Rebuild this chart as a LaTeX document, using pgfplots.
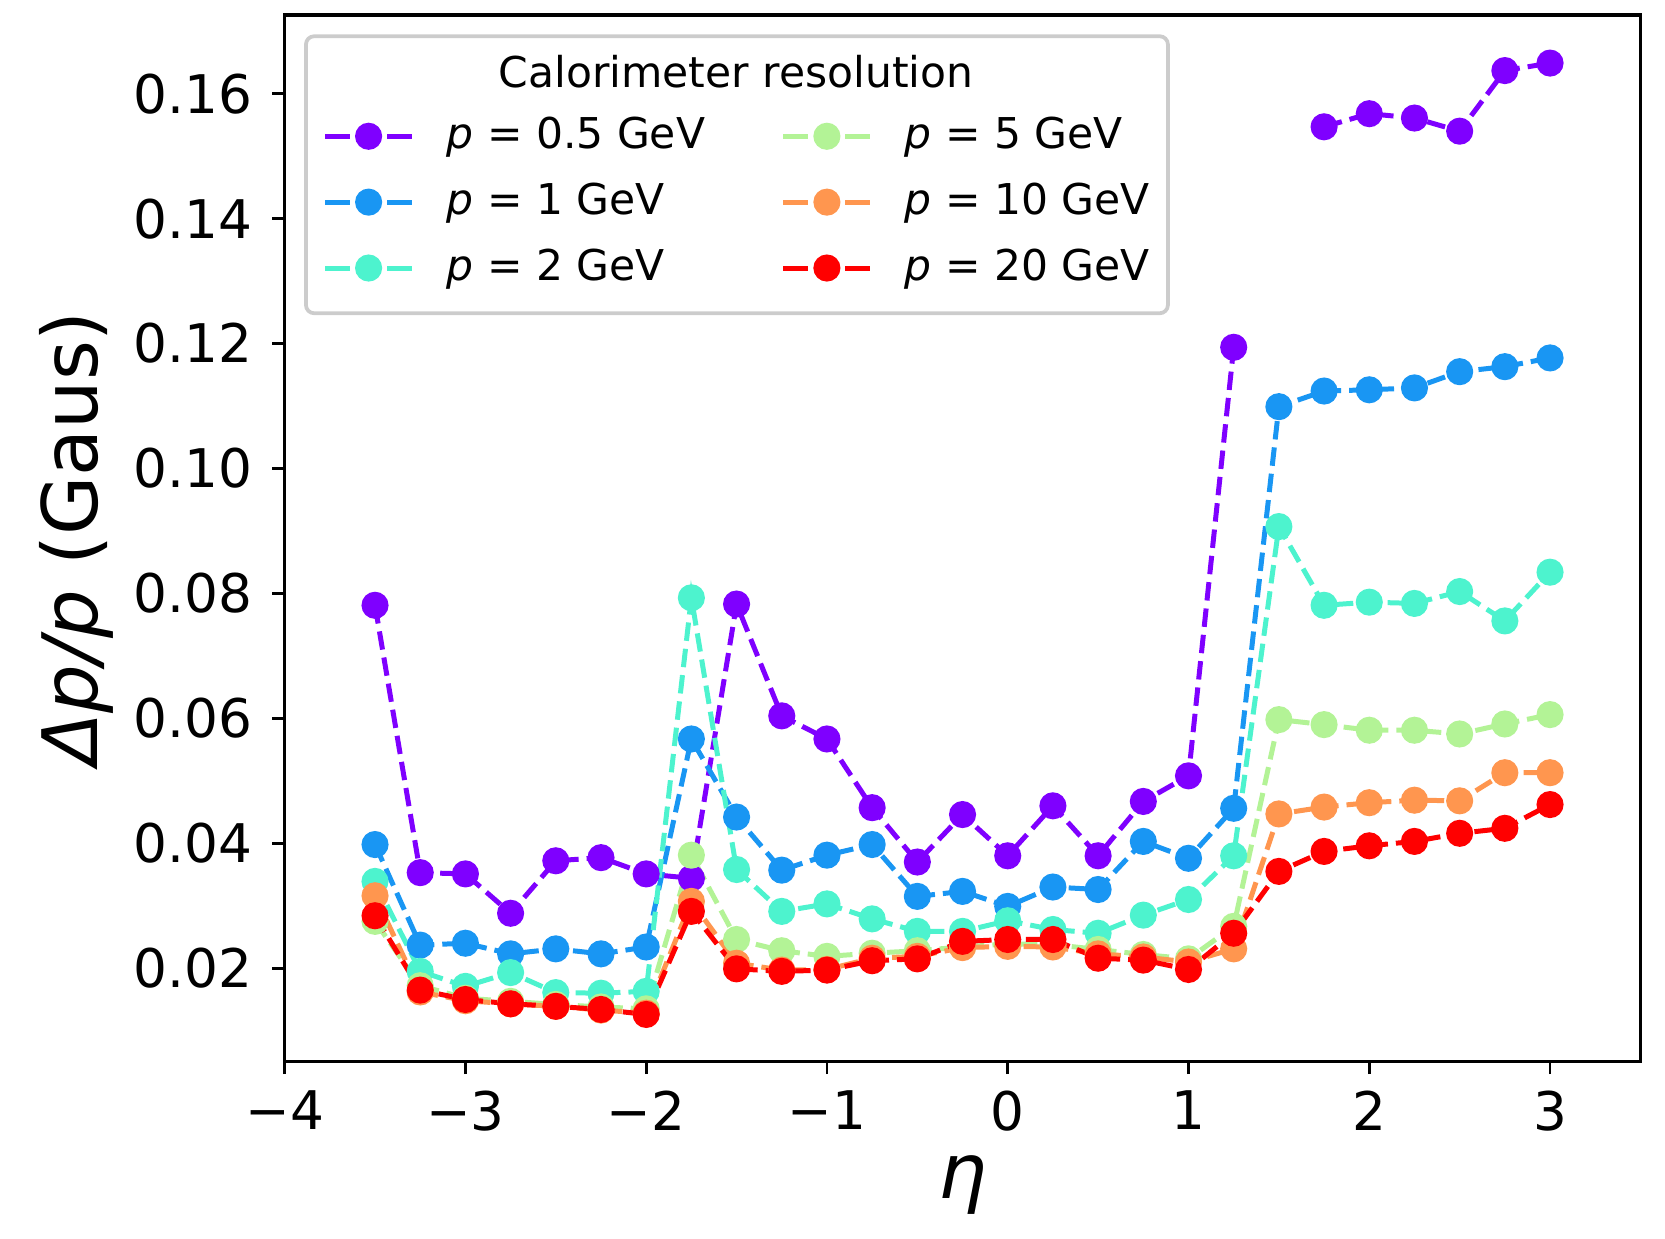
\documentclass[border=0pt]{standalone}
\usepackage{fontspec}
\setmainfont{DejaVu Sans}
\usepackage{pgfplots}
\pgfplotsset{compat=1.18}
\definecolor{c1}{HTML}{7F00FF}
\definecolor{c2}{HTML}{1996F3}
\definecolor{c3}{HTML}{4DF3CE}
\definecolor{c4}{HTML}{B3F396}
\definecolor{c5}{HTML}{FF964F}
\definecolor{c6}{HTML}{FF0000}
\pgfplotsset{ser/.style={color=#1, line width=1.2pt, dash pattern=on 4.44pt off 1.92pt,
  mark=*, mark size=2.65pt, mark options={solid, fill=#1, draw=none}}}
\begin{document}
\begin{tikzpicture}
\begin{axis}[name=ax, scale only axis, width=325.8pt, height=251.5pt,
  xmin=-4, xmax=3.5, ymin=0.00505, ymax=0.1726,
  xtick={-4,-3,-2,-1,0,1,2,3}, xticklabels={−4,−3,−2,−1,0,1,2,3},
  ytick={0.02,0.04,0.06,0.08,0.10,0.12,0.14,0.16},
  yticklabels={0.02,0.04,0.06,0.08,0.10,0.12,0.14,0.16},
  tick pos=left, tick align=outside, major tick length=3pt,
  tick style={black, line width=0.65pt}, axis line style={black, line width=0.8pt},
  ticklabel style={font=\fontsize{12.8}{14}\selectfont},
  xticklabel style={anchor=north, inner sep=0pt, yshift=-3.8pt},
  yticklabel style={anchor=east, inner sep=0pt, xshift=-4.6pt},
  xlabel={\itshape η}, ylabel={{\itshape Δp/p} (Gaus)},
  label style={font=\fontsize{18.4}{22}\selectfont},
  xlabel style={at={(axis description cs:0.5,0)}, anchor=base, yshift=-32.8pt},
  ylabel style={at={(axis description cs:-0.1535,0.5)}, anchor=center},
  unbounded coords=jump,
  legend columns=2, legend cell align=left,
  legend style={at={(axis description cs:0.0274,0.9109)}, anchor=north west,
    draw=none, fill=none, inner sep=0pt, row sep=2.76pt, column sep=7.7pt,
    /tikz/every even column/.append style={column sep=18.2pt},
    nodes={inner xsep=0pt}, font=\fontsize{10.2}{12}\selectfont},
  legend image code/.code={
    \draw[#1, solid] (0pt,0pt) -- (6pt,0pt);
    \draw[#1, solid] (14.9pt,0pt) -- (20.9pt,0pt);
    \draw[#1] plot coordinates {(10.45pt,0pt)};}
]
\addplot[ser=c1, forget plot] coordinates {(-3.5,0.0781)(-3.25,0.0353)(-3,0.0351)(-2.75,0.0288)(-2.5,0.0372)(-2.25,0.0377)(-2,0.0351)(-1.75,0.0344)(-1.5,0.0783)(-1.25,0.0604)(-1,0.0567)(-0.75,0.0457)(-0.5,0.0370)(-0.25,0.0446)(0,0.0380)(0.25,0.0460)(0.5,0.0380)(0.75,0.0467)(1,0.0508)(1.25,0.1194)(1.5,nan)(1.75,0.1547)(2,0.1568)(2.25,0.1561)(2.5,0.1540)(2.75,0.1637)(3,0.1649)};
\addplot[ser=c2, forget plot] coordinates {(-3.5,0.0398)(-3.25,0.0237)(-3,0.0240)(-2.75,0.0223)(-2.5,0.0231)(-2.25,0.0223)(-2,0.0234)(-1.75,0.0567)(-1.5,0.0442)(-1.25,0.0357)(-1,0.0381)(-0.75,0.0398)(-0.5,0.0315)(-0.25,0.0323)(0,0.0299)(0.25,0.0330)(0.5,0.0326)(0.75,0.0403)(1,0.0376)(1.25,0.0456)(1.5,0.1099)(1.75,0.1124)(2,0.1126)(2.25,0.1129)(2.5,0.1155)(2.75,0.1163)(3,0.1177)};
\addplot[ser=c3, forget plot] coordinates {(-3.5,0.0339)(-3.25,0.0195)(-3,0.0171)(-2.75,0.0193)(-2.5,0.0161)(-2.25,0.0160)(-2,0.0163)(-1.75,0.0793)(-1.5,0.0358)(-1.25,0.0291)(-1,0.0303)(-0.75,0.0279)(-0.5,0.0259)(-0.25,0.0259)(0,0.0276)(0.25,0.0262)(0.5,0.0256)(0.75,0.0285)(1,0.0310)(1.25,0.0380)(1.5,0.0907)(1.75,0.0781)(2,0.0786)(2.25,0.0784)(2.5,0.0803)(2.75,0.0756)(3,0.0834)};
\addplot[ser=c4, forget plot] coordinates {(-3.5,0.0275)(-3.25,0.0172)(-3,0.0152)(-2.75,0.0147)(-2.5,0.0142)(-2.25,0.0138)(-2,0.0135)(-1.75,0.0381)(-1.5,0.0246)(-1.25,0.0228)(-1,0.0219)(-0.75,0.0224)(-0.5,0.0228)(-0.25,0.0234)(0,0.0239)(0.25,0.0238)(0.5,0.0230)(0.75,0.0222)(1,0.0215)(1.25,0.0267)(1.5,0.0598)(1.75,0.0590)(2,0.0581)(2.25,0.0581)(2.5,0.0575)(2.75,0.0591)(3,0.0606)};
\addplot[ser=c5, forget plot] coordinates {(-3.5,0.0316)(-3.25,0.0162)(-3,0.0148)(-2.75,0.0143)(-2.5,0.0139)(-2.25,0.0133)(-2,0.0128)(-1.75,0.0307)(-1.5,0.0208)(-1.25,0.0197)(-1,0.0198)(-0.75,0.0216)(-0.5,0.0219)(-0.25,0.0233)(0,0.0235)(0.25,0.0234)(0.5,0.0223)(0.75,0.0218)(1,0.0210)(1.25,0.0231)(1.5,0.0447)(1.75,0.0458)(2,0.0465)(2.25,0.0469)(2.5,0.0468)(2.75,0.0513)(3,0.0513)};
\addplot[ser=c6, forget plot] coordinates {(-3.5,0.0284)(-3.25,0.0165)(-3,0.0150)(-2.75,0.0143)(-2.5,0.0139)(-2.25,0.0134)(-2,0.0126)(-1.75,0.0291)(-1.5,0.0199)(-1.25,0.0195)(-1,0.0197)(-0.75,0.0212)(-0.5,0.0215)(-0.25,0.0243)(0,0.0246)(0.25,0.0246)(0.5,0.0216)(0.75,0.0213)(1,0.0198)(1.25,0.0256)(1.5,0.0355)(1.75,0.0387)(2,0.0396)(2.25,0.0403)(2.5,0.0416)(2.75,0.0424)(3,0.0462)};
% legend filled column by column, as matplotlib does
\addlegendimage{ser=c1}\addlegendentry{{\itshape p} = 0.5 GeV}
\addlegendimage{ser=c4}\addlegendentry{{\itshape p} = 5 GeV}
\addlegendimage{ser=c2}\addlegendentry{{\itshape p} = 1 GeV}
\addlegendimage{ser=c5}\addlegendentry{{\itshape p} = 10 GeV}
\addlegendimage{ser=c3}\addlegendentry{{\itshape p} = 2 GeV}
\addlegendimage{ser=c6}\addlegendentry{{\itshape p} = 20 GeV}
\draw[rounded corners=2pt, draw=black!20, line width=0.9pt, fill=white, fill opacity=0.8]
  (axis description cs:0.0157,0.715) rectangle (axis description cs:0.6515,0.9797);
\node[font=\fontsize{10.2}{12}\selectfont] at (axis description cs:0.333,0.946) {Calorimeter resolution};
\end{axis}
\pgfresetboundingbox
\path ([shift={(-68.4pt,-42.6pt)}]ax.south west) rectangle ([shift={(5.9pt,3.6pt)}]ax.north east);
\end{tikzpicture}
\end{document}
